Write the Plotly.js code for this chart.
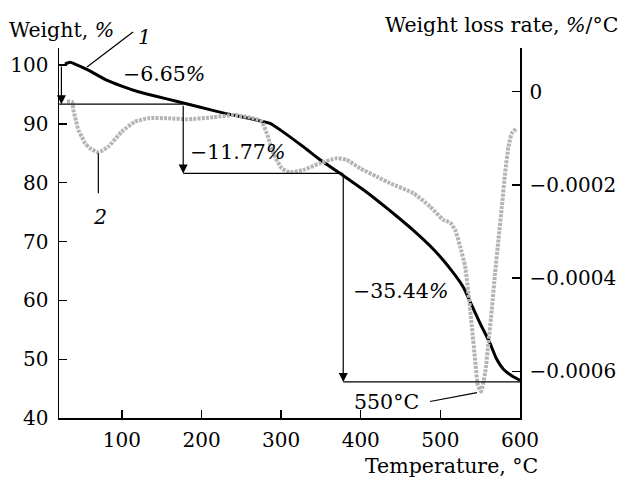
<!DOCTYPE html>
<html>
<head>
<meta charset="utf-8">
<script src="https://cdn.plot.ly/plotly-3.0.1.min.js"></script>
<style>html,body{margin:0;padding:0;background:#fff;}#chart{width:622px;height:483px;}</style>
</head>
<body>
<div id="chart"></div>
<script>
// TGA curve (1): temperature, °C and weight, %
const tgaTemp = [28.5, 34.8, 41.1, 57.8, 78.8, 99.8, 120.6, 141.6, 170.9, 196.0, 229.5, 265.1, 286.1, 302.8, 327.9, 348.9, 378.2, 403.3, 424.3, 445.2, 466.1, 491.2, 512.2, 529.0, 537.3, 549.9, 562.0, 570.0, 579.2, 591.7, 600];
const tgaWeight = [100.17, 100.46, 100.17, 99.15, 97.57, 96.43, 95.47, 94.73, 93.77, 92.92, 91.79, 90.77, 90.09, 88.6, 86.1, 83.9, 81.2, 78.8, 76.6, 74.3, 71.9, 68.7, 65.4, 62.2, 59.77, 56.1, 52.8, 50.2, 48.3, 47.0, 46.4];

// DTG curve (2): temperature, °C and weight loss rate, %/°C
const dtgTemp = [31.0, 37.3, 39.0, 41.1, 43.2, 45.2, 49.5, 53.7, 59.9, 70.4, 82.9, 99.8, 116.5, 133.2, 158.3, 181.4, 214.5, 239.6, 265.1, 275.6, 281.9, 290.2, 300.8, 311.2, 327.9, 348.9, 369.9, 382.4, 399.1, 420.1, 436.8, 466.1, 487.1, 503.8, 512.2, 518.5, 524.8, 531.1, 535.2, 539.5, 543.6, 547.0, 551.0, 556.2, 560.3, 564.6, 568.7, 572.9, 577.2, 581.3, 585.5, 589.7, 596.0];
const dtgRate = [-2.1e-5, -2.2e-5, -3.9e-5, -5.4e-5, -6.8e-5, -8.2e-5, -9.6e-5, -1.106e-4, -1.213e-4, -1.30e-4, -1.179e-4, -8.57e-5, -6.43e-5, -5.7e-5, -5.7e-5, -5.92e-5, -5.49e-5, -4.99e-5, -5.7e-5, -6.43e-5, -8.92e-5, -1.32e-4, -1.642e-4, -1.728e-4, -1.678e-4, -1.535e-4, -1.428e-4, -1.464e-4, -1.642e-4, -1.822e-4, -1.964e-4, -2.178e-4, -2.465e-4, -2.75e-4, -2.808e-4, -2.965e-4, -3.323e-4, -3.751e-4, -4.322e-4, -5.037e-4, -5.751e-4, -6.29e-4, -6.43e-4, -6.036e-4, -5.393e-4, -4.68e-4, -3.893e-4, -3.179e-4, -2.465e-4, -1.749e-4, -1.179e-4, -8.92e-5, -7.85e-5];

// Ticks
const xTicks = [100, 200, 300, 400, 500, 600];
const yTicks = [40, 50, 60, 70, 80, 90, 100];
const y2Ticks = [0, -0.0002, -0.0004, -0.0006];
const y2TickText = ['0', '\u22120.0002', '\u22120.0004', '\u22120.0006'];

// Weight-loss steps
const startWeight = 100;
const stepTemps = [24, 177, 378];
const stepLoss = [6.65, 11.77, 35.44];
const stepLabels = ['\u22126.65<i>%</i>', '\u221211.77<i>%</i>', '\u221235.44<i>%</i>'];
const peakTemp = 550;

const xMin = 21, xMax = 600;
const FONT = 'DejaVu Serif';
const TXT = {family: FONT, size: 20.5, color: '#000'};

const levels = [startWeight];
stepLoss.forEach((d, i) => levels.push(+(levels[i] - d).toFixed(2)));

const traces = [
  {x: dtgTemp, y: dtgRate, yaxis: 'y2', type: 'scatter', mode: 'lines',
   line: {color: '#b4b4b4', width: 4, dash: '3px,1.2px', shape: 'spline', smoothing: 0.5},
   hoverinfo: 'skip', showlegend: false},
  {x: tgaTemp, y: tgaWeight, type: 'scatter', mode: 'lines',
   line: {color: '#000', width: 3, shape: 'spline', smoothing: 0.5},
   hoverinfo: 'skip', showlegend: false}
];

const shapes = [];
const annotations = [];
const stepEnds = [xMin, stepTemps[1], stepTemps[2], xMax];
for (let i = 0; i < 3; i++) {
  shapes.push({type: 'line', xref: 'x', yref: 'y', x0: stepEnds[i], x1: stepEnds[i + 1],
    y0: levels[i + 1], y1: levels[i + 1], line: {color: '#000', width: 1.2}});
  annotations.push({xref: 'x', yref: 'y', axref: 'x', ayref: 'y',
    x: stepTemps[i], y: levels[i + 1], ax: stepTemps[i], ay: levels[i],
    showarrow: true, arrowhead: 2, arrowsize: 1.5, arrowwidth: 1.2, arrowcolor: '#000', text: ''});
}
// step labels
const labelPos = [[153, 98.4], [245, 85.2], [449.4, 61.6]];
stepLabels.forEach((t, i) => annotations.push({xref: 'x', yref: 'y', x: labelPos[i][0], y: labelPos[i][1],
  text: t, showarrow: false, font: TXT}));
// 550 °C label
annotations.push({xref: 'x', yref: 'y', x: 431.8, y: 42.7, text: peakTemp + '°C', showarrow: false, font: TXT});
shapes.push({type: 'line', xref: 'x', yref: 'y', x0: 487, x1: 546, y0: 42.8, y1: 44.3, line: {color: '#000', width: 1.2}});
// curve labels
shapes.push({type: 'line', xref: 'paper', yref: 'paper', x0: (87 - 59) / 461, y0: (418 - 67) / 370,
  x1: (133 - 59) / 461, y1: (418 - 32) / 370, line: {color: '#000', width: 1.2}});
annotations.push({xref: 'paper', yref: 'paper', x: (144 - 59) / 461, y: (418 - 37) / 370, xanchor: 'center', yanchor: 'middle',
  text: '<i>1</i>', showarrow: false, font: TXT});
shapes.push({type: 'line', xref: 'x', yref: 'y', x0: 70.4, x1: 70.4, y0: 85.0, y1: 78.2, line: {color: '#000', width: 1.2}});
annotations.push({xref: 'x', yref: 'y', x: 72.5, y: 74.2, text: '<i>2</i>', showarrow: false, font: TXT});
// axis titles
annotations.push({xref: 'paper', yref: 'paper', x: (7 - 59) / 461, y: (418 - 30) / 370, xanchor: 'left', yanchor: 'middle',
  text: 'Weight, <i>%</i>', showarrow: false, font: TXT});
annotations.push({xref: 'paper', yref: 'paper', x: (620 - 59) / 461, y: (418 - 25) / 370, xanchor: 'right', yanchor: 'middle',
  text: 'Weight loss rate, <i>%</i>/°C', showarrow: false, font: TXT});
annotations.push({xref: 'paper', yref: 'paper', x: (540 - 59) / 461, y: (418 - 466) / 370, xanchor: 'right', yanchor: 'middle',
  text: 'Temperature, °C', showarrow: false, font: TXT});

const axisCommon = {showgrid: false, zeroline: false, showline: true, linecolor: '#000', linewidth: 1.5,
  ticks: 'inside', ticklen: 8, tickwidth: 1.3, tickcolor: '#000',
  tickfont: {family: FONT, size: 20, color: '#000'}, fixedrange: true};

const layout = {
  width: 622, height: 483,
  margin: {l: 59, r: 102, t: 48, b: 65, pad: 0},
  paper_bgcolor: '#fff', plot_bgcolor: '#fff',
  font: {family: FONT, color: '#000'},
  showlegend: false,
  xaxis: Object.assign({}, axisCommon, {range: [xMin, xMax], tickvals: xTicks, ticklabelstandoff: 3}),
  yaxis: Object.assign({}, axisCommon, {range: [40, 102.9], tickvals: yTicks, ticklabelstandoff: 5}),
  yaxis2: Object.assign({}, axisCommon, {range: [-0.0007, 0.0000937], overlaying: 'y', side: 'right',
    tickvals: y2Ticks, ticktext: y2TickText, ticklabelstandoff: 4}),
  shapes: shapes,
  annotations: annotations
};

Plotly.newPlot('chart', traces, layout, {staticPlot: true, displayModeBar: false});
</script>
</body>
</html>
